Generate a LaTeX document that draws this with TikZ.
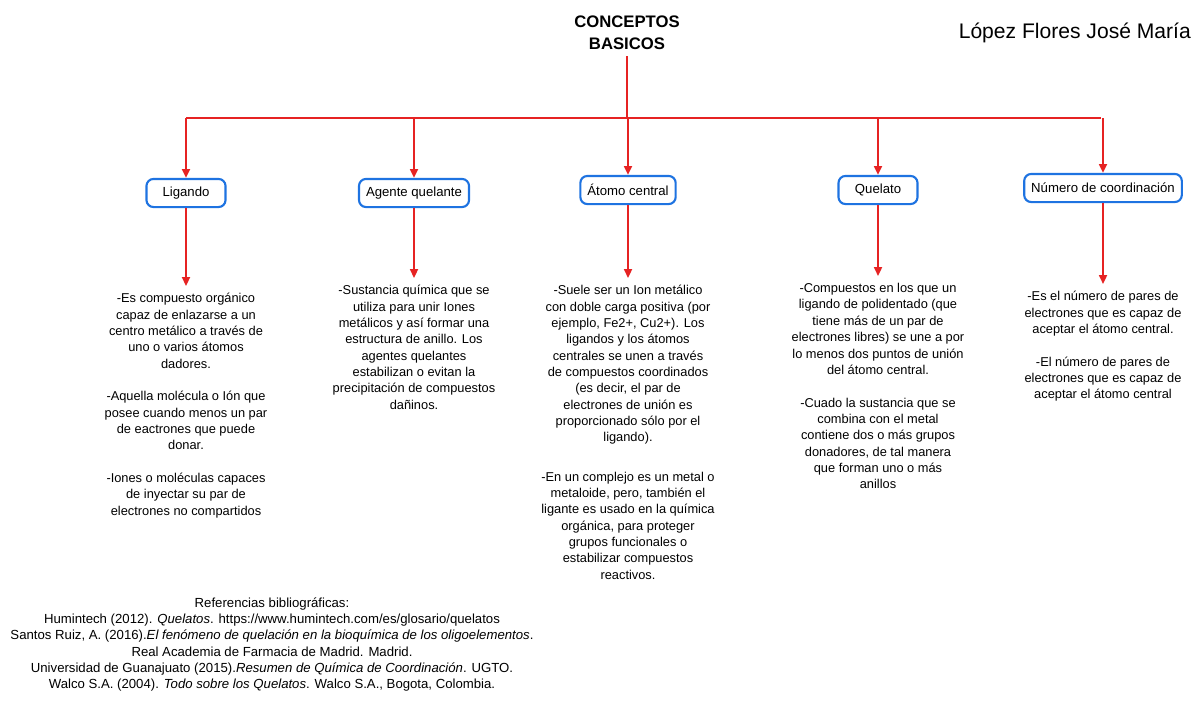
\documentclass[tikz,border=0pt]{standalone}
\usepackage{fontspec}
\setmainfont{Liberation Sans}
\usetikzlibrary{arrows.meta}

\definecolor{linered}{RGB}{230,35,35}
\definecolor{boxblue}{RGB}{30,115,225}

\tikzset{
    redline/.style={draw=linered, line width=1.1pt},
    redarrow/.style={redline, -{Triangle[width=4.5pt,length=5pt]}},
    concept/.style={draw=boxblue, line width=1.2pt, rounded corners=4pt, fill=white,
        minimum width=45pt, minimum height=16pt, inner xsep=4pt, font=\fontsize{7.5}{9}\selectfont},
    info/.style={anchor=north, align=center, inner sep=0pt, font=\fontsize{7.3}{9.3}\selectfont}
}

\begin{document}
\begin{tikzpicture}[x=0.02cm, y=-0.02cm]
    \useasboundingbox (0,0) rectangle (1200,704);

    % Title and author
    \node[align=center, font=\bfseries\fontsize{9.5}{12.5}\selectfont] (Title) at (627,33) {CONCEPTOS\\BASICOS};
    \node[font=\fontsize{12}{14}\selectfont, anchor=east] (Author) at (1197,33) {López Flores José María};

    % Define coordinates for the branch line
    \coordinate (Top) at (627,118);
    \coordinate (Left) at (186,118);
    \coordinate (Right) at (1101,118);

    % Concept boxes
    \node[concept] (Ligando) at (186,193) {Ligando};
    \node[concept] (Agente) at (414,193) {Agente quelante};
    \node[concept] (Atomo) at (628,190) {Átomo central};
    \node[concept] (Quelato) at (878,190) {Quelato};
    \node[concept] (Numero) at (1103,188) {Número de coordinación};

    % Descriptions
    \node[info] (LigandoText) at (186,293) {-Es compuesto orgánico\\capaz de enlazarse a un\\centro metálico a través de\\uno o varios átomos\\dadores.\\[9.3pt]-Aquella molécula o Ión que\\posee cuando menos un par\\de eactrones que puede\\donar.\\[9.3pt]-Iones o moléculas capaces\\de inyectar su par de\\electrones no compartidos};
    \node[info] (AgenteText) at (414,285) {-Sustancia química que se\\utiliza para unir Iones\\metálicos y así formar una\\estructura de anillo. Los\\agentes quelantes\\estabilizan o evitan la\\precipitación de compuestos\\dañinos.};
    \node[info] (AtomoText) at (628,285) {-Suele ser un Ion metálico\\con doble carga positiva (por\\ejemplo, Fe2+, Cu2+). Los\\ligandos y los átomos\\centrales se unen a través\\de compuestos coordinados\\(es decir, el par de\\electrones de unión es\\proporcionado sólo por el\\ligando).\\[13pt]-En un complejo es un metal o\\metaloide, pero, también el\\ligante es usado en la química\\orgánica, para proteger\\grupos funcionales o\\estabilizar compuestos\\reactivos.};
    \node[info] (QuelatoText) at (878,283) {-Compuestos en los que un\\ligando de polidentado (que\\tiene más de un par de\\electrones libres) se une a por\\lo menos dos puntos de unión\\del átomo central.\\[9.3pt]-Cuado la sustancia que se\\combina con el metal\\contiene dos o más grupos\\donadores, de tal manera\\que forman uno o más\\anillos};
    \node[info] (NumeroText) at (1103,291) {-Es el número de pares de\\electrones que es capaz de\\aceptar el átomo central.\\[9.3pt]-El número de pares de\\electrones que es capaz de\\aceptar el átomo central};

    % References
    \node[info, font=\fontsize{7.5}{9.3}\selectfont] (Refs) at (272,597) {Referencias bibliográficas:\\Humintech (2012). \textit{Quelatos}. https://www.humintech.com/es/glosario/quelatos\\Santos Ruiz, A. (2016).\textit{El fenómeno de quelación en la bioquímica de los oligoelementos}.\\Real Academia de Farmacia de Madrid. Madrid.\\Universidad de Guanajuato (2015).\textit{Resumen de Química de Coordinación}. UGTO.\\Walco S.A. (2004). \textit{Todo sobre los Quelatos}. Walco S.A., Bogota, Colombia.};

    % Connect the title to the boxes
    \draw[redline] (Title.south) -- (Top);
    \draw[redline] (Left) -- (Right);
    \foreach \n in {Ligando, Agente, Atomo, Quelato, Numero}
        \draw[redarrow] (\n |- Top) -- (\n.north);

    % Connect the boxes to their descriptions
    \foreach \n in {Ligando, Agente, Atomo, Quelato, Numero}
        \draw[redarrow] (\n.south) -- ([yshift=4pt] \n.south |- \n Text.north);

\end{tikzpicture}
\end{document}
